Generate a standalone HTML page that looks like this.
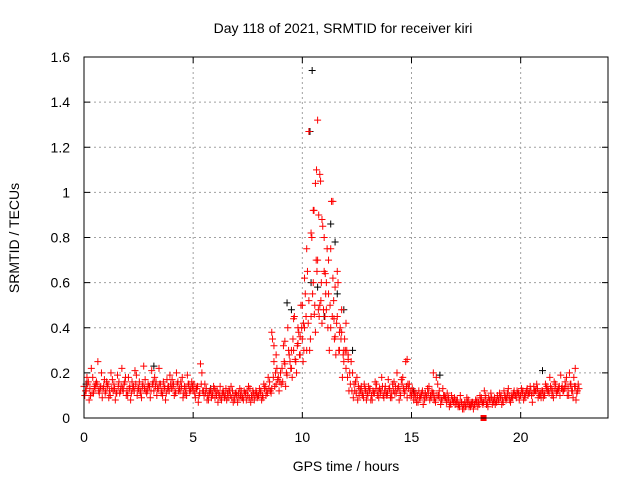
<!DOCTYPE html>
<html><head><meta charset="utf-8"><style>
body{margin:0;background:#fff}
svg{display:block;font-family:"Liberation Sans",sans-serif}
</style></head><body>
<svg id="chart" width="640" height="480">
<text x="343" y="33" text-anchor="middle" font-size="14">Day 118 of 2021, SRMTID for receiver kiri</text>
<text x="346" y="471" text-anchor="middle" font-size="14">GPS time / hours</text>
<text transform="translate(19,238) rotate(-90)" text-anchor="middle" font-size="14">SRMTID / TECUs</text>
<g id="grid"></g><g id="ticks"></g><g id="black"></g><g id="red"></g>
<rect x="84" y="57" width="524" height="361" fill="none" stroke="#000"/>
</svg>
<script>
const xTicks=[0,5,10,15,20];
const yTicks=[0,0.2,0.4,0.6,0.8,1,1.2,1.4,1.6];
const yTickLabels=["0","0.2","0.4","0.6","0.8","1","1.2","1.4","1.6"];
const step=0.1;
const seriesA=[.14,.12,.16,.10,.18,.13,.15,.11,.20,.14,
.12,.15,.10,.17,.13,.11,.16,.14,.12,.18,
.10,.14,.16,.12,.19,.13,.11,.15,.17,.12,
.14,.21,.12,.16,.13,.15,.10,.14,.17,.12,
.13,.15,.11,.16,.12,.18,.14,.10,.15,.13,
.12,.09,.14,.11,.20,.10,.13,.08,.12,.10,
.09,.12,.10,.08,.11,.13,.09,.10,.12,.08,
.10,.09,.12,.08,.11,.10,.13,.09,.08,.11,
.10,.12,.09,.14,.11,.16,.13,.25,.15,.18,
.20,.16,.24,.19,.28,.22,.30,.25,.33,.28,
.35,.40,.30,.52,.45,.60,.38,.70,.50,.42,
.65,.48,.55,.40,.62,.36,.45,.30,.38,.25,
.22,.28,.15,.20,.12,.18,.10,.14,.09,.12,
.10,.13,.08,.11,.15,.09,.12,.10,.14,.11,
.13,.09,.16,.11,.14,.10,.18,.12,.09,.15,
.10,.08,.11,.07,.09,.12,.08,.10,.14,.09,
.11,.07,.15,.09,.08,.10,.07,.09,.06,.08,
.06,.08,.05,.07,.04,.06,.08,.05,.07,.06,
.08,.06,.09,.07,.10,.05,.08,.06,.09,.07,
.08,.10,.07,.09,.11,.08,.10,.12,.09,.11,
.10,.12,.09,.13,.11,.10,.14,.12,.09,.11,
.12,.10,.14,.11,.13,.09,.15,.12,.10,.14,
.13,.18,.10,.15,.09,.14,.12];
const seriesB=[.10,.18,.08,.22,.11,.15,.25,.13,.09,.17,
.16,.09,.20,.12,.08,.19,.11,.22,.15,.10,
.18,.08,.13,.21,.10,.16,.09,.23,.12,.15,
.09,.15,.18,.10,.22,.11,.16,.08,.13,.19,
.17,.10,.20,.12,.16,.09,.11,.19,.12,.16,
.15,.13,.07,.24,.12,.15,.08,.11,.09,.14,
.12,.07,.14,.11,.09,.08,.12,.14,.07,.11,
.07,.13,.09,.12,.08,.14,.07,.12,.10,.09,
.13,.08,.15,.10,.18,.12,.35,.14,.22,.12,
.15,.32,.14,.40,.25,.18,.45,.20,.38,.50,
.25,.55,.65,.30,.80,.92,.70,.48,1.05,.85,
.45,.75,.30,.96,.52,.28,.60,.40,.18,.35,
.30,.12,.25,.09,.16,.08,.13,.11,.15,.08,
.14,.08,.12,.16,.10,.13,.18,.09,.11,.17,
.09,.15,.11,.20,.08,.17,.13,.25,.15,.10,
.13,.11,.07,.12,.10,.06,.11,.13,.08,.12,
.08,.18,.10,.06,.13,.09,.11,.05,.10,.07,
.08,.05,.10,.04,.07,.09,.05,.06,.04,.08,
.05,.10,.07,.12,.06,.09,.11,.08,.06,.10,
.11,.06,.12,.08,.13,.07,.09,.10,.12,.08,
.13,.08,.11,.10,.14,.07,.12,.15,.11,.09,
.09,.15,.12,.18,.10,.16,.11,.13,.19,.12,
.16,.10,.20,.12,.18,.08,.15];
const seriesC=[.12,.15,.13,.11,.14,.16,.12,.14,.13,.11,
.14,.12,.13,.15,.11,.14,.12,.13,.16,.12,
.13,.11,.14,.15,.13,.12,.14,.13,.11,.14,
.12,.16,.14,.13,.15,.12,.13,.11,.14,.15,
.14,.12,.15,.13,.14,.11,.13,.15,.12,.14,
.11,.13,.10,.15,.12,.11,.10,.12,.11,.13,
.10,.11,.09,.12,.10,.11,.12,.09,.10,.11,
.11,.10,.09,.11,.12,.09,.10,.11,.12,.10,
.11,.10,.13,.12,.13,.11,.18,.20,.17,.16,
.22,.25,.20,.30,.22,.35,.26,.32,.28,.40,
.30,.45,.42,.35,.55,.50,.65,.45,.60,.48,
.55,.40,.50,.45,.35,.42,.30,.35,.28,.30,
.18,.20,.12,.15,.11,.14,.12,.10,.13,.11,
.12,.10,.11,.13,.12,.11,.14,.12,.10,.13,
.11,.12,.14,.13,.12,.15,.11,.14,.13,.12,
.11,.09,.10,.09,.11,.10,.09,.11,.10,.11,
.09,.10,.12,.08,.10,.09,.08,.07,.08,.09,
.07,.06,.07,.06,.05,.07,.06,.07,.06,.07,
.07,.08,.06,.08,.07,.08,.09,.07,.08,.08,
.09,.08,.10,.09,.10,.09,.11,.10,.11,.10,
.11,.10,.12,.11,.12,.11,.12,.13,.10,.12,
.11,.13,.12,.14,.12,.13,.12,.14,.13,.12,
.14,.13,.15,.12,.14,.11,.13];
const extraTimes=[10.3,10.7,10.5,10.8,10.6,10.9,11.0,10.2,10.4,11.4,11.3,11.6,10.1,10.0,9.8,11.8,11.2,12.0,11.5,9.5,8.6,16.0,14.8,22.5,10.65,10.75,11.1,8.7,8.8,9.2,9.6,9.9,10.05,10.55,10.85,11.05,11.45,11.7,11.9,12.1];
const extraValues=[1.27,1.32,0.92,1.08,1.04,0.88,0.80,0.75,0.82,0.96,0.75,0.65,0.62,0.50,0.40,0.48,0.70,0.42,0.58,0.30,0.38,0.20,0.26,0.22,1.10,0.90,0.60,0.32,0.28,0.34,0.44,0.36,0.42,0.46,0.52,0.64,0.44,0.38,0.30,0.26];
const blackTimes=[9.3,9.5,10.4,10.7,11.0,11.6,11.9,12.3,10.45,10.35,11.3,11.5,0.1,3.2,21.0,16.3,15.1,5.8];
const blackValues=[0.51,0.48,0.60,0.58,0.45,0.55,0.48,0.30,1.54,1.27,0.86,0.78,0.15,0.23,0.21,0.19,0.12,0.13];
const squareTimes=[18.3];
const squareValues=[0];

const X=t=>84+t*(524/24);
const Y=v=>418-v*(361/1.6);
const NS="http://www.w3.org/2000/svg";
function mk(tag,attrs,parent){const e=document.createElementNS(NS,tag);for(const k in attrs)e.setAttribute(k,attrs[k]);parent.appendChild(e);return e;}
const grid=document.getElementById('grid'),ticks=document.getElementById('ticks');
xTicks.forEach(t=>{
 const g=mk('line',{x1:X(t),x2:X(t),y1:57,y2:418,stroke:'#a0a0a0','stroke-dasharray':'2,3'},grid);
 
 
 mk('line',{x1:X(t),x2:X(t),y1:418,y2:412,stroke:'#000'},ticks);
 mk('line',{x1:X(t),x2:X(t),y1:57,y2:63,stroke:'#000'},ticks);
 const l=mk('text',{x:X(t),y:442,'text-anchor':'middle','font-size':14},ticks);
 l.textContent=t;
 
 
});
yTicks.forEach((v,i)=>{
 const g=mk('line',{x1:84,x2:608,y1:Y(v),y2:Y(v),stroke:'#a0a0a0','stroke-dasharray':'2,3'},grid);
 
 
 mk('line',{x1:84,x2:90,y1:Y(v),y2:Y(v),stroke:'#000'},ticks);
 mk('line',{x1:602,x2:608,y1:Y(v),y2:Y(v),stroke:'#000'},ticks);
 const l=mk('text',{x:70,y:Y(v)+5,'text-anchor':'end','font-size':14},ticks);
 l.textContent=yTickLabels[i];
 
 
});
function plus(t,v,color,parent){
 const x=X(t),y=Y(v);
 const p=mk('path',{d:`M${x-3.5},${y}H${x+3.5}M${x},${y-3.5}V${y+3.5}`,stroke:color,'stroke-width':1,fill:'none'},parent);
 
 
}
const black=document.getElementById('black'),red=document.getElementById('red');
blackTimes.forEach((t,i)=>plus(t,blackValues[i],'#000',black));
seriesA.forEach((v,i)=>{
 plus(i*step,v,'#f00',red);
 plus(i*step+0.035,seriesB[i],'#f00',red);
 plus(i*step+0.07,seriesC[i],'#f00',red);
});
extraTimes.forEach((t,i)=>plus(t,extraValues[i],'#f00',red));
squareTimes.forEach((t,i)=>{
 const r=mk('rect',{x:X(t)-3,y:Y(squareValues[i])-3,width:6,height:6,fill:'#f00'},red);
 
 
});
</script>
</body></html>
